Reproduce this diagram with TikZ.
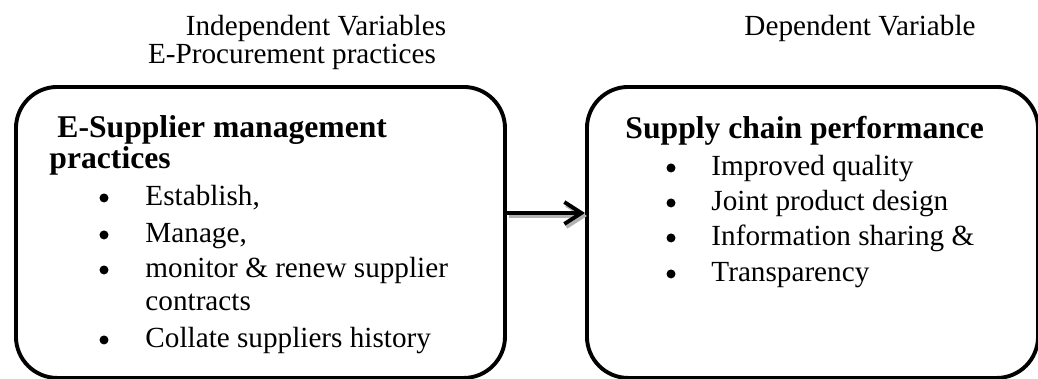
\documentclass[tikz,border=0pt]{standalone}
\usepackage{fontspec}
\setmainfont{Liberation Serif}
\usetikzlibrary{arrows.meta}

\begin{document}
\begin{tikzpicture}[x=0.411pt,y=-0.411pt,font=\fontsize{12}{14}\selectfont]
\tikzset{
% rounded boxes and the text lines inside them
var box/.style={draw,line width=1.6pt,rounded corners=17pt,inner sep=0,anchor=north west,minimum height=119.6pt},
head/.style={anchor=base west,inner sep=0,font=\fontsize{13}{15}\selectfont\bfseries},
item/.style={anchor=base west,inner sep=0},
bul/.style={circle,fill,inner sep=0,minimum size=3.7pt,yshift=2.9pt},
title/.style={anchor=base,inner sep=0},
link/.style={line width=1.6pt,-{Straight Barb[length=7pt,width=9pt]}}
}
\useasboundingbox (0,0) rectangle (1038,378);

% headings above the boxes
\node (iv)[title] at (316,35) {Independent Variables};
\node (ep)[title] at (292,63) {E-Procurement practices};
\node (dv)[title] at (860,35) {Dependent Variable};

% the two boxes
\node (esm)[var box,minimum width=201pt] at (14,85) {};
\node (scp)[var box,minimum width=185.4pt] at (585,85) {};

% left box
\node (esmh1)[head] at (57,137) {E-Supplier management};
\node (esmh2)[head] at (49,168) {practices};
\node (b1)[bul] at (104,205) {};
\node (i1)[item] at (145,205) {Establish,};
\node (b2)[bul] at (104,242) {};
\node (i2)[item] at (145,242) {Manage,};
\node (b3)[bul] at (104,277) {};
\node (i3)[item] at (145,277) {monitor \& renew supplier};
\node (i3b)[item] at (145,310) {contracts};
\node (b4)[bul] at (104,347) {};
\node (i4)[item] at (145,347) {Collate suppliers history};

% right box
\node (scph)[head] at (625,138) {Supply chain performance};
\node (c1)[bul] at (671,175) {};
\node (j1)[item] at (711,175) {Improved quality};
\node (c2)[bul] at (671,210) {};
\node (j2)[item] at (711,210) {Joint product design};
\node (c3)[bul] at (671,245) {};
\node (j3)[item] at (711,245) {Information sharing \&};
\node (c4)[bul] at (671,281) {};
\node (j4)[item] at (711,281) {Transparency};

% arrow with its grey shadow
\coordinate (ay) at (0,213);
\draw[link,gray!60,transform canvas={shift={(2,3)}}] (esm.east |- ay) -- (scp.west |- ay);
\draw[link] (esm.east |- ay) -- (scp.west |- ay);
\end{tikzpicture}
\end{document}
